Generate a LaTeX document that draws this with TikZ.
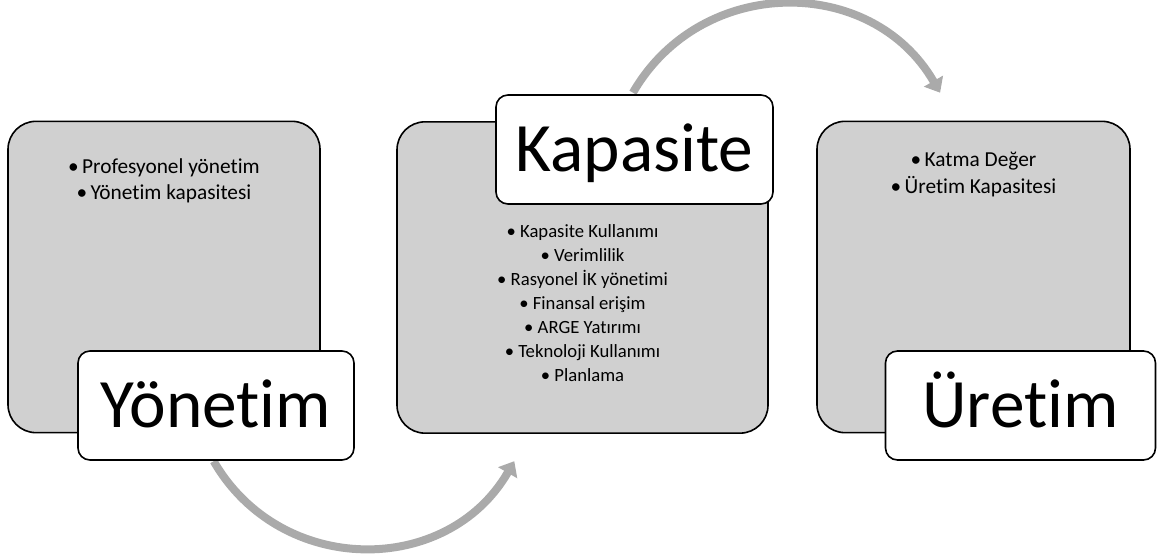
\documentclass[tikz,border=0pt]{standalone}
\usepackage{fontspec}
\setmainfont{Carlito}[Ligatures=NoCommon]
\usetikzlibrary{arrows.meta}
\definecolor{boxgray}{RGB}{208,208,208}
\definecolor{arrowgray}{RGB}{170,170,170}
\newcommand{\blt}{\textbullet\kern2.5pt}

\begin{document}
\begin{tikzpicture}[
x=0.75pt, y=0.75pt,
graybox/.style={rectangle, rounded corners=21pt, draw=black, fill=boxgray, line width=1.2pt, minimum height=233.5pt},
titlebox/.style={rectangle, rounded corners=9pt, draw=black, fill=white, line width=1.2pt, minimum height=81.75pt, inner sep=0pt, font=\fontsize{52}{60}\selectfont, text height=33.5pt, text depth=0pt},
listtext/.style={align=center, inner sep=0pt, anchor=north},
flowarrow/.style={draw=arrowgray, line width=6pt, -{Triangle[width=16pt,length=10pt]}},
]
\useasboundingbox (0,0) rectangle (1157,560);

%Arrows
\coordinate (arrAstart) at (213.7,98.8);
\coordinate (arrAend)   at (514.3,98.8);
\coordinate (arrBstart) at (632.9,467.3);
\coordinate (arrBend)   at (940.1,467.3);
\draw[flowarrow] (arrAstart) to [out=-60,in=240,looseness=1.14] (arrAend);
\draw[flowarrow] (arrBstart) to [out=60,in=120,looseness=1.14] (arrBend);

%Boxes
\node[graybox, minimum width=234pt]    (yonBox)  at (164,283)     {};
\node[graybox, minimum width=278.25pt] (kapBox)  at (582.5,282.5) {};
\node[graybox, minimum width=234.75pt] (uretBox) at (973.5,283)   {};

\node[titlebox, minimum width=207pt]    (yonTitle)  at (216,154.5)    {Yönetim};
\node[titlebox, minimum width=207.75pt] (kapTitle)  at (634.5,410.5)  {Kapasite};
\node[titlebox, minimum width=202.5pt]  (uretTitle) at (1020.5,154.5) {Üretim};

%Lists
\node[listtext, font=\fontsize{16}{20}\selectfont] (yonList) at (164,402)
  {\blt Profesyonel yönetim\\\blt Yönetim kapasitesi};
\node[listtext, font=\fontsize{14}{18}\selectfont] (kapList) at (582.5,336)
  {\textbullet{} Kapasite Kullanımı\\\textbullet{} Verimlilik\\\textbullet{} Rasyonel İK yönetimi\\\textbullet{} Finansal erişim\\\textbullet{} ARGE Yatırımı\\\textbullet{} Teknoloji Kullanımı\\\textbullet{} Planlama};
\node[listtext, font=\fontsize{16}{20}\selectfont] (uretList) at (973.5,408)
  {\blt Katma Değer\\\blt Üretim Kapasitesi};
\end{tikzpicture}
\end{document}
